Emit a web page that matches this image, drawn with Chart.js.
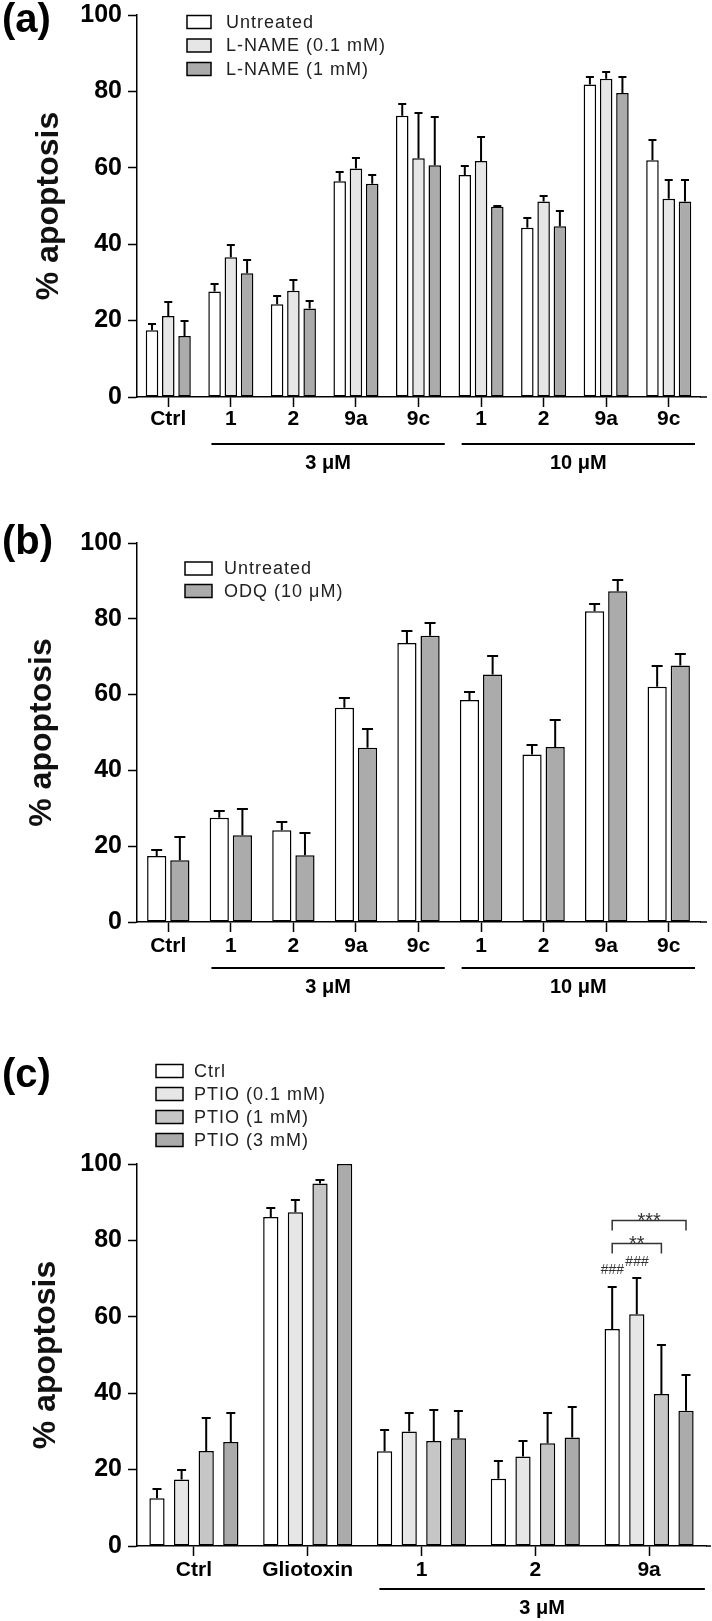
<!DOCTYPE html>
<html><head><meta charset="utf-8">
<script src="https://cdn.jsdelivr.net/npm/chart.js@4/dist/chart.umd.min.js"></script>
<style>
html,body{margin:0;padding:0;background:#fff;width:712px;height:1621px;overflow:hidden}
canvas.p{position:absolute;left:0}
</style></head><body>
<canvas id="ca" class="p" style="top:0px" width="712" height="480"></canvas>
<canvas id="cb" class="p" style="top:500px" width="712" height="500"></canvas>
<canvas id="cc" class="p" style="top:1040px" width="712" height="581"></canvas>
<script>
// ---------- DATA ----------
const catsAB = ['Ctrl', '1', '2', '9a', '9c', '1', '2', '9a', '9c'];
const groupsAB = [{label: '3 \u03BCM', from: 1, to: 4}, {label: '10 \u03BCM', from: 5, to: 8}];

// Panel (a)
const labelsA = ['Untreated', 'L-NAME (0.1 mM)', 'L-NAME (1 mM)'];
const untreatedA    = [17.5, 27.6, 24.3, 56.5, 73.6, 58.1, 44.3, 81.8, 62.0];
const untreatedAErr = [1.6, 1.9, 2.2, 2.5, 3.2, 2.3, 2.5, 2.1, 5.2];
const lname01A      = [21.2, 36.6, 27.8, 59.8, 62.5, 61.8, 51.2, 83.3, 51.9];
const lname01AErr   = [3.8, 3.3, 2.7, 2.7, 11.9, 6.3, 1.3, 1.9, 4.9];
const lname1A       = [16.0, 32.4, 23.2, 55.8, 60.7, 49.8, 44.7, 79.6, 51.2];
const lname1AErr    = [4.0, 3.5, 1.9, 2.3, 12.5, 0.15, 3.9, 4.1, 5.5];

// Panel (b)
const labelsB = ['Untreated', 'ODQ (10 \u03BCM)'];
const untreatedB    = [17.4, 27.5, 24.2, 56.5, 73.6, 58.6, 44.2, 82.0, 62.1];
const untreatedBErr = [1.6, 1.8, 2.2, 2.5, 3.3, 2.2, 2.6, 1.9, 5.4];
const odqB          = [16.3, 22.9, 17.6, 46.0, 75.5, 65.3, 46.2, 87.3, 67.7];
const odqBErr       = [6.1, 6.8, 6.0, 4.8, 3.3, 5.0, 7.0, 2.9, 3.1];

// Panel (c)
const catsC = ['Ctrl', 'Gliotoxin', '1', '2', '9a'];
const groupsC = [{label: '3 \u03BCM', from: 2, to: 4}];
const labelsC = ['Ctrl', 'PTIO (0.1 mM)', 'PTIO (1 mM)', 'PTIO (3 mM)'];
const ctrlC      = [12.5, 86.1, 24.8, 17.6, 56.8];
const ctrlCErr   = [2.3, 2.3, 5.5, 4.7, 11.1];
const ptio01C    = [17.4, 87.4, 30.0, 23.4, 60.7];
const ptio01CErr = [2.6, 3.2, 4.8, 4.1, 9.5];
const ptio1C     = [24.9, 94.9, 27.5, 26.9, 39.8];
const ptio1CErr  = [8.7, 0.9, 8.2, 8.0, 12.7];
const ptio3C     = [27.2, 100, 28.2, 28.4, 35.4];
const ptio3CErr  = [7.5, 0, 7.2, 8.1, 9.3];
// significance marks in (c): '###' above bars, brackets '**' / '***'
const hashMarksC = [{cat: 4, series: 0, value: 72.1, text: '###'}, {cat: 4, series: 1, value: 74.4, text: '###'}];
const bracketsC  = [{cat: 4, from: 0, to: 2, value: 79.4, text: '**'}, {cat: 4, from: 0, to: 3, value: 85.3, text: '***'}];

const yTicks = [0, 20, 40, 60, 80, 100];

// ---------- STYLE ----------
const FONT = '"Liberation Sans", Arial, Helvetica, sans-serif';
const WHITE = '#ffffff', LIGHT = '#e6e6e6', MID = '#c6c6c6', DARK = '#ababab';

function errorBars(errs, cap) {
  return {
    id: 'errbars',
    afterDatasetsDraw(chart) {
      const ctx = chart.ctx, ys = chart.scales.y;
      ctx.save();
      ctx.strokeStyle = '#000'; ctx.lineWidth = 2; ctx.lineCap = 'butt';
      chart.data.datasets.forEach((ds, di) => {
        chart.getDatasetMeta(di).data.forEach((bar, i) => {
          const e = errs[di][i];
          if (!e) return;
          const yTop = Math.round(ys.getPixelForValue(ds.data[i] + e));
          const x = bar.x;
          ctx.beginPath();
          ctx.moveTo(x, bar.y); ctx.lineTo(x, yTop);
          ctx.moveTo(x - cap / 2, yTop); ctx.lineTo(x + cap / 2, yTop);
          ctx.stroke();
        });
      });
      ctx.restore();
    }
  };
}

function decorations(o) {
  return {
    id: 'deco',
    afterDraw(chart) {
      const ctx = chart.ctx, ca = chart.chartArea, xs = chart.scales.x;
      ctx.save();
      // x axis extension
      ctx.strokeStyle = '#000'; ctx.lineWidth = 1.5;
      ctx.beginPath(); ctx.moveTo(ca.right, ca.bottom); ctx.lineTo(ca.right + o.axisExt, ca.bottom); ctx.stroke();
      // panel label
      ctx.fillStyle = '#000'; ctx.font = 'bold 40px ' + FONT; ctx.textAlign = 'left'; ctx.textBaseline = 'middle';
      ctx.fillText(o.panel, 2, o.panelY);
      // legend
      chart.data.datasets.forEach((ds, i) => {
        const y = o.lg.y0 + i * o.lg.dy;
        ctx.fillStyle = ds.backgroundColor;
        ctx.fillRect(o.lg.x, y - o.lg.h / 2, o.lg.w, o.lg.h);
        ctx.strokeStyle = '#000'; ctx.lineWidth = 1.5;
        ctx.strokeRect(o.lg.x, y - o.lg.h / 2, o.lg.w, o.lg.h);
        ctx.fillStyle = '#222'; ctx.font = '18px ' + FONT;
        try { ctx.letterSpacing = '1px'; } catch (e) {}
        ctx.textAlign = 'left'; ctx.textBaseline = 'middle';
        ctx.fillText(ds.label, o.lg.tx, y + 1);
        try { ctx.letterSpacing = '0px'; } catch (e) {}
      });
      // group lines
      const w = xs.getPixelForValue(1) - xs.getPixelForValue(0);
      o.groups.forEach(g => {
        const x1 = xs.getPixelForValue(g.from) - o.gl * w;
        const x2 = xs.getPixelForValue(g.to) + o.gr * w;
        const y = ca.bottom + o.gdy;
        ctx.strokeStyle = '#000'; ctx.lineWidth = 1.8;
        ctx.beginPath(); ctx.moveTo(x1, y); ctx.lineTo(x2, y); ctx.stroke();
        ctx.fillStyle = '#000'; ctx.font = 'bold 20px ' + FONT; ctx.textAlign = 'center'; ctx.textBaseline = 'middle';
        ctx.fillText(g.label, (x1 + x2) / 2, y + o.gty);
      });
      // significance marks
      if (o.hash) {
        const ys = chart.scales.y;
        ctx.fillStyle = '#333'; ctx.strokeStyle = '#333';
        o.hash.forEach(h => {
          const bar = chart.getDatasetMeta(h.series).data[h.cat];
          ctx.font = 'italic 14px ' + FONT; ctx.textAlign = 'center'; ctx.textBaseline = 'middle';
          ctx.fillText(h.text, bar.x, ys.getPixelForValue(h.value));
        });
        o.brackets.forEach(b => {
          const xa = chart.getDatasetMeta(b.from).data[b.cat].x;
          const xb = chart.getDatasetMeta(b.to).data[b.cat].x;
          const y = Math.round(ys.getPixelForValue(b.value)) + 0.5;
          ctx.lineWidth = 1.5;
          ctx.beginPath(); ctx.moveTo(xa, y + 10); ctx.lineTo(xa, y); ctx.lineTo(xb, y); ctx.lineTo(xb, y + 10); ctx.stroke();
          ctx.font = '20px ' + FONT; ctx.textAlign = 'center'; ctx.textBaseline = 'alphabetic';
          ctx.fillText(b.text, (xa + xb) / 2, y + 6);
        });
      }
      ctx.restore();
    }
  };
}

function makeChart(id, cfg) {
  return new Chart(document.getElementById(id), {
    type: 'bar',
    data: {
      labels: cfg.labels,
      datasets: cfg.series.map(s => ({
        label: s.label, data: s.data, backgroundColor: s.color,
        borderColor: '#000', borderWidth: 1.5, borderSkipped: false,
        categoryPercentage: cfg.cat, barPercentage: cfg.bar
      }))
    },
    options: {
      responsive: false, animation: false, devicePixelRatio: 1,
      layout: {padding: {top: cfg.padTop, right: cfg.padRight, left: 0, bottom: 0}},
      plugins: {legend: {display: false}, tooltip: {enabled: false}},
      scales: {
        x: {
          offset: true,
          grid: {display: true, drawOnChartArea: false, offset: false, tickLength: 10, tickWidth: 1.5, tickColor: '#000'},
          border: {display: true, color: '#000', width: 1.5},
          ticks: {color: '#000', font: {family: FONT, size: 21, weight: 'bold', lineHeight: 1}, padding: cfg.xPad, maxRotation: 0, autoSkip: false},
          afterFit(s) { s.height = cfg.xH; s.paddingLeft = 0; s.paddingRight = 0; }
        },
        y: {
          min: 0, max: 100,
          afterBuildTicks(s) { s.ticks = yTicks.map(v => ({value: v})); },
          ticks: {color: '#000', font: {family: FONT, size: 25, weight: 'bold', lineHeight: 1}, padding: 6},
          grid: {display: true, drawOnChartArea: false, tickLength: 9, tickWidth: 1.5, tickColor: '#000'},
          border: {display: true, color: '#000', width: 1.5},
          title: {display: true, text: '% apoptosis', color: '#111', font: {family: FONT, size: 32, weight: 'bold', lineHeight: 1.2}, padding: {top: cfg.titlePad, bottom: 0}},
          afterFit(s) { s.width = 137; s.paddingTop = 0; s.paddingBottom = 0; }
        }
      }
    },
    plugins: [errorBars(cfg.errs, cfg.cap), decorations(cfg.deco)]
  });
}

makeChart('ca', {
  labels: catsAB,
  series: [
    {label: labelsA[0], data: untreatedA, color: WHITE},
    {label: labelsA[1], data: lname01A, color: LIGHT},
    {label: labelsA[2], data: lname1A, color: DARK}
  ],
  errs: [untreatedAErr, lname01AErr, lname1AErr], cap: 8,
  cat: 0.78, bar: 0.77, padTop: 15, padRight: 12, xH: 83, xPad: 2, titlePad: 30,
  deco: {panel: '(a)', panelY: 21, axisExt: 7,
    lg: {x: 187, w: 24, h: 13, y0: 22, dy: 23.5, tx: 226},
    groups: groupsAB, gl: 0.31, gr: 0.42, gdy: 47, gty: 19}
});

makeChart('cb', {
  labels: catsAB,
  series: [
    {label: labelsB[0], data: untreatedB, color: WHITE},
    {label: labelsB[1], data: odqB, color: DARK}
  ],
  errs: [untreatedBErr, odqBErr], cap: 11,
  cat: 0.74, bar: 0.83, padTop: 43, padRight: 12, xH: 78, xPad: 4, titlePad: 23,
  deco: {panel: '(b)', panelY: 43, axisExt: 7,
    lg: {x: 185, w: 27, h: 13, y0: 68.5, dy: 22.5, tx: 224},
    groups: groupsAB, gl: 0.31, gr: 0.42, gdy: 46, gty: 19}
});

makeChart('cc', {
  labels: catsC,
  series: [
    {label: labelsC[0], data: ctrlC, color: WHITE},
    {label: labelsC[1], data: ptio01C, color: LIGHT},
    {label: labelsC[2], data: ptio1C, color: MID},
    {label: labelsC[3], data: ptio3C, color: DARK}
  ],
  errs: [ctrlCErr, ptio01CErr, ptio1CErr, ptio3CErr], cap: 9,
  cat: 0.865, bar: 0.62, padTop: 124, padRight: 6, xH: 75, xPad: 4, titlePad: 27,
  deco: {panel: '(c)', panelY: 36, axisExt: 5,
    lg: {x: 156, w: 27, h: 13, y0: 31, dy: 23, tx: 194},
    groups: groupsC, gl: 0.37, gr: 0.49, gdy: 43, gty: 19,
    hash: hashMarksC, brackets: bracketsC}
});
</script>
</body></html>
